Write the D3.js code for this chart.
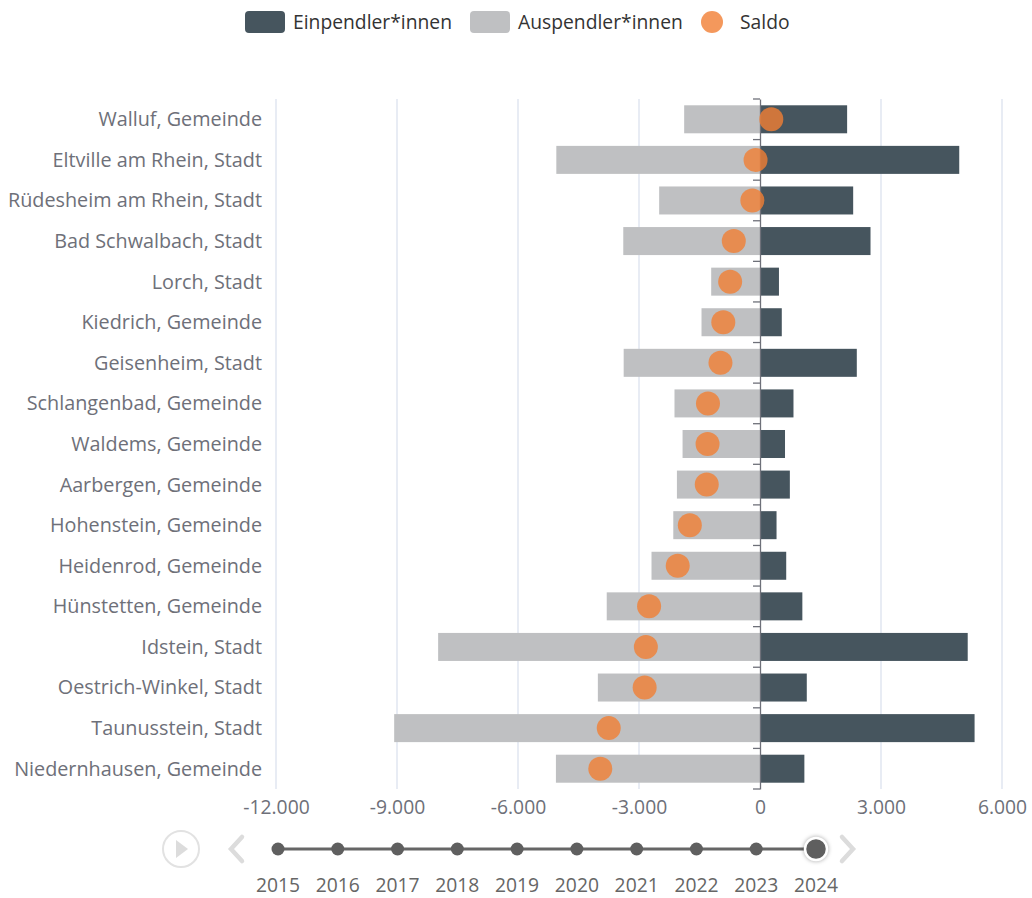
<!DOCTYPE html>
<html>
<head>
<meta charset="utf-8">
<script src="https://d3js.org/d3.v7.min.js"></script>
<style>
  body { margin: 0; background: #fff; }
  text { font-family: "Open Sans", "Noto Sans", sans-serif; }
</style>
</head>
<body>
<div id="chart"></div>
<script>
// Pendler nach Gemeinde, Jahr 2024
var gemeinden = ["Walluf, Gemeinde", "Eltville am Rhein, Stadt", "Rüdesheim am Rhein, Stadt",
  "Bad Schwalbach, Stadt", "Lorch, Stadt", "Kiedrich, Gemeinde", "Geisenheim, Stadt",
  "Schlangenbad, Gemeinde", "Waldems, Gemeinde", "Aarbergen, Gemeinde", "Hohenstein, Gemeinde",
  "Heidenrod, Gemeinde", "Hünstetten, Gemeinde", "Idstein, Stadt", "Oestrich-Winkel, Stadt",
  "Taunusstein, Stadt", "Niedernhausen, Gemeinde"];
var einpendler = [2160, 4940, 2310, 2740, 470, 540, 2400, 830, 620, 740, 410, 650, 1050, 5150, 1160, 5320, 1100];
var auspendler = [-1880, -5050, -2500, -3390, -1210, -1450, -3380, -2120, -1920, -2060, -2150, -2690, -3800, -7980, -4020, -9070, -5060];
var saldo = [280, -110, -190, -650, -740, -910, -980, -1290, -1300, -1320, -1740, -2040, -2750, -2830, -2860, -3750, -3960];
var xTicks = [-12000, -9000, -6000, -3000, 0, 3000, 6000];
var jahre = ["2015", "2016", "2017", "2018", "2019", "2020", "2021", "2022", "2023", "2024"];
var aktuellesJahr = "2024";

var W = 1032, H = 898;
var cEin = "#46555e", cAus = "#bfc0c2", cSaldo = "#f17e33", cText = "#6e7079";
var fs = "19.3px";

var svg = d3.select("#chart").append("svg")
  .attr("width", W).attr("height", H);

var x = d3.scaleLinear().domain([-12000, 6000]).range([276, 1002]);
var y = d3.scaleBand().domain(gemeinden).range([99, 789]).paddingInner(0.31).paddingOuter(0.155);
var yb = d3.scaleBand().domain(gemeinden).range([99, 789]);

var fmt = function(d) { return d3.format(",")(d).replace(/,/g, ".").replace("\u2212", "-"); };

// grid
svg.append("g").selectAll("line").data(xTicks.filter(function(d) { return d !== 0; }))
  .enter().append("line")
  .attr("x1", function(d) { return x(d); }).attr("x2", function(d) { return x(d); })
  .attr("y1", 99).attr("y2", 789)
  .attr("stroke", "#e0e6f1").attr("stroke-width", 1.5);

// x axis labels
var xAxis = svg.append("g").attr("transform", "translate(0,789)")
  .call(d3.axisBottom(x).tickValues(xTicks).tickFormat(fmt).tickSize(0).tickPadding(11));
xAxis.select(".domain").remove();
xAxis.selectAll("text").attr("fill", cText).style("font-size", fs)
  .style("font-family", "'Open Sans', sans-serif");

// bars
var rows = gemeinden.map(function(g, i) {
  return { name: g, ein: einpendler[i], aus: auspendler[i], saldo: saldo[i] };
});
svg.append("g").selectAll("rect").data(rows).enter().append("rect")
  .attr("x", function(d) { return x(d.aus); })
  .attr("y", function(d) { return y(d.name); })
  .attr("width", function(d) { return x(0) - x(d.aus); })
  .attr("height", y.bandwidth())
  .attr("fill", cAus);
svg.append("g").selectAll("rect").data(rows).enter().append("rect")
  .attr("x", x(0))
  .attr("y", function(d) { return y(d.name); })
  .attr("width", function(d) { return x(d.ein) - x(0); })
  .attr("height", y.bandwidth())
  .attr("fill", cEin);

// y axis at zero, ticks on band boundaries
var yAxis = svg.append("g").attr("transform", "translate(" + x(0) + ",0)")
  .call(d3.axisLeft(yb).tickSize(0).tickFormat(""));
yAxis.select(".domain").attr("stroke", cText).attr("stroke-width", 1.3);
yAxis.selectAll(".tick").remove();
yAxis.selectAll("line.bt").data(d3.range(gemeinden.length + 1)).enter().append("line")
  .attr("class", "bt")
  .attr("x1", -7).attr("x2", 0)
  .attr("y1", function(i) { return 99 + i * yb.step(); })
  .attr("y2", function(i) { return 99 + i * yb.step(); })
  .attr("stroke", cText).attr("stroke-width", 1.3);

svg.append("g").selectAll("text").data(gemeinden).enter().append("text")
  .attr("x", 262)
  .attr("y", function(d) { return yb(d) + yb.bandwidth() / 2; })
  .attr("dy", "0.35em")
  .attr("text-anchor", "end")
  .attr("fill", cText)
  .style("font-size", "19.8px")
  .text(function(d) { return d; });

// saldo dots
svg.append("g").selectAll("circle").data(rows).enter().append("circle")
  .attr("cx", function(d) { return x(d.saldo); })
  .attr("cy", function(d) { return yb(d.name) + yb.bandwidth() / 2; })
  .attr("r", 12)
  .attr("fill", cSaldo).attr("fill-opacity", 0.8);

// legend
var leg = svg.append("g");
leg.append("rect").attr("x", 245).attr("y", 11).attr("width", 40).attr("height", 22).attr("rx", 4).attr("fill", cEin);
leg.append("text").attr("x", 293).attr("y", 22).attr("dy", "0.35em").attr("fill", "#333").style("font-size", fs).text("Einpendler*innen");
leg.append("rect").attr("x", 470).attr("y", 11).attr("width", 40).attr("height", 22).attr("rx", 4).attr("fill", cAus);
leg.append("text").attr("x", 518).attr("y", 22).attr("dy", "0.35em").attr("fill", "#333").style("font-size", fs).text("Auspendler*innen");
leg.append("circle").attr("cx", 712).attr("cy", 22).attr("r", 11).attr("fill", cSaldo).attr("fill-opacity", 0.8);
leg.append("text").attr("x", 740).attr("y", 22).attr("dy", "0.35em").attr("fill", "#333").style("font-size", fs).text("Saldo");

// timeline
var t = d3.scalePoint().domain(jahre).range([278, 816]);
var ty = 849;
var tl = svg.append("g");
tl.append("circle").attr("cx", 181).attr("cy", ty).attr("r", 18)
  .attr("fill", "none").attr("stroke", "#e2e2e2").attr("stroke-width", 2);
tl.append("path").attr("d", "M176,840 L188,849 L176,858 Z").attr("fill", "#dcdcdc");
tl.append("path").attr("d", "M242,837 L231,849 L242,861")
  .attr("fill", "none").attr("stroke", "#dcdcdc").attr("stroke-width", 4.5).attr("stroke-linecap", "round");
tl.append("path").attr("d", "M842,837 L853,849 L842,861")
  .attr("fill", "none").attr("stroke", "#dcdcdc").attr("stroke-width", 4.5).attr("stroke-linecap", "round");
tl.append("line").attr("x1", t(jahre[0])).attr("x2", t(jahre[jahre.length - 1]))
  .attr("y1", ty).attr("y2", ty).attr("stroke", "#666").attr("stroke-width", 3);
tl.selectAll("circle.y").data(jahre).enter().append("circle")
  .attr("class", "y")
  .attr("cx", function(d) { return t(d); }).attr("cy", ty)
  .attr("r", function(d) { return d === aktuellesJahr ? 11 : 6.5; })
  .attr("fill", "#5f5f5f")
  .attr("stroke", function(d) { return d === aktuellesJahr ? "#fff" : "none"; })
  .attr("stroke-width", 2.5)
  .style("filter", function(d) { return d === aktuellesJahr ? "drop-shadow(0 0 2px rgba(0,0,0,0.35))" : null; });
tl.selectAll("text").data(jahre).enter().append("text")
  .attr("x", function(d) { return t(d); }).attr("y", 885)
  .attr("dy", "0.35em").attr("text-anchor", "middle")
  .attr("fill", "#666").style("font-size", fs)
  .text(function(d) { return d; });
</script>
</body>
</html>
